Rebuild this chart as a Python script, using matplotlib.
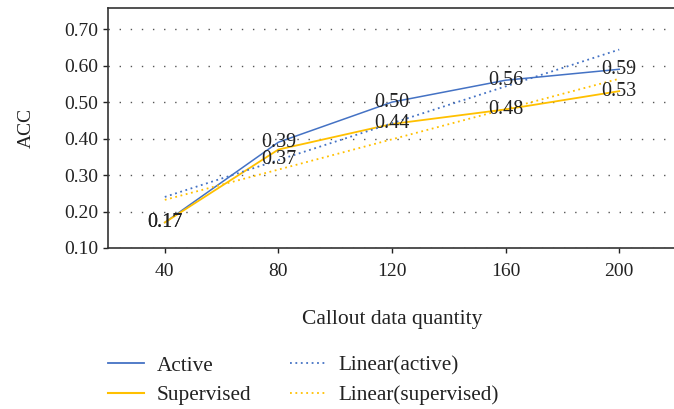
import numpy as np
import matplotlib.pyplot as plt
from matplotlib.lines import Line2D

plt.rcParams['font.family'] = ['Liberation Serif', 'DejaVu Serif']

# data
quantity = ['40', '80', '120', '160', '200']
active = [0.17, 0.39, 0.50, 0.56, 0.59]
supervised = [0.17, 0.37, 0.44, 0.48, 0.53]
yticks = [0.10, 0.20, 0.30, 0.40, 0.50, 0.60, 0.70]

blue = '#4472C4'
yellow = '#FFC000'

fig = plt.figure(figsize=(6.74, 4.09), dpi=100)
ax = fig.add_axes([108 / 674, 1 - 248 / 409, 568 / 674, 240 / 409])

x = np.arange(len(quantity))
ax.plot(x, active, color=blue, lw=1.1)
ax.plot(x, supervised, color=yellow, lw=1.3)

# linear trend lines (least squares fit like excel)
xi = x + 1
pa = np.polyfit(xi, active, 1)
ps = np.polyfit(xi, supervised, 1)
ax.plot(x, np.polyval(pa, xi), color=blue, lw=1.3, ls=(0, (1, 2)))
ax.plot(x, np.polyval(ps, xi), color=yellow, lw=1.3, ls=(0, (1, 2)))

# value labels
for i, v in enumerate(active):
    ax.annotate('%.2f' % v, (i, v), ha='center', va='center', fontsize=14.5, color='#222222')
for i, v in enumerate(supervised):
    dy = -7.5 if i == 1 else 0
    ax.annotate('%.2f' % v, (i, v), xytext=(0, dy), textcoords='offset points',
                ha='center', va='center', fontsize=14.5, color='#222222')

ax.set_xlim(-0.5, 4.5)
ax.set_ylim(0.10, 0.758)
ax.set_xticks(x)
ax.set_xticklabels(quantity)
ax.set_yticks(yticks)
ax.set_yticklabels(['%.2f' % t for t in yticks])
ax.tick_params(labelsize=14, colors='#222222', length=3.6, width=1, direction='out')
ax.tick_params(axis='y', pad=3.6)
ax.tick_params(axis='x', pad=7)
ax.yaxis.grid(True, color='#555555', ls=(0, (1, 7)), lw=1)
ax.set_axisbelow(True)
for s in ax.spines.values():
    s.set_color('#333333')
    s.set_linewidth(1.2)

ax.set_xlabel('Callout data quantity', fontsize=15.5, color='#222222', labelpad=22)
ax.set_ylabel('ACC', fontsize=14, color='#222222', labelpad=21)

handles = [Line2D([], [], color=blue, lw=1.3),
           Line2D([], [], color=yellow, lw=1.5),
           Line2D([], [], color=blue, lw=1.3, ls=(0, (1, 2))),
           Line2D([], [], color=yellow, lw=1.3, ls=(0, (1, 2)))]
labels = ['Active', 'Supervised', 'Linear(active)', 'Linear(supervised)']
fig.legend(handles, labels, ncol=2, loc='upper left', bbox_to_anchor=(108 / 674, 1 - 356 / 409),
           frameon=False, fontsize=15.3, handlelength=1.7, handletextpad=0.6,
           columnspacing=1.8, labelspacing=0.45, borderpad=0, borderaxespad=0,
           labelcolor='#222222')

fig.savefig('out.png', dpi=100)
